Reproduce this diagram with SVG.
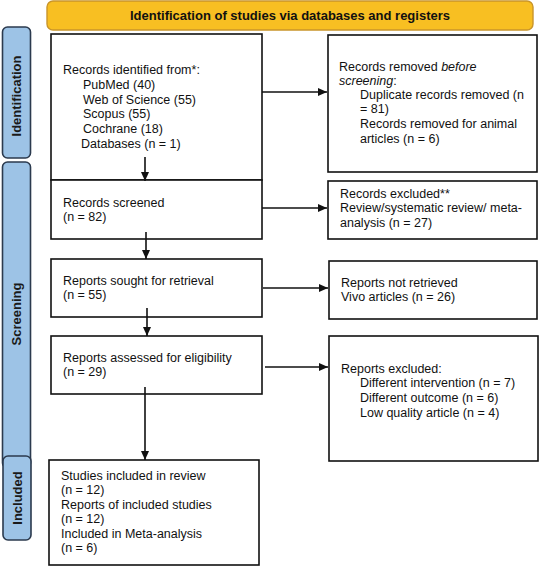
<svg xmlns="http://www.w3.org/2000/svg" width="540" height="566" viewBox="0 0 540 566">
  <style>
    .box { fill: #ffffff; stroke: #111111; stroke-width: 1.6; }
    .tab { fill: #9DC3E6; stroke: #2B3A4E; stroke-width: 1.6; }
    .banner { fill: #F8BF22; stroke: #C9952A; stroke-width: 1.4; }
    .t { font-family: "Liberation Sans", Arial, sans-serif; font-size: 12.5px; fill: #111111; }
    .hb { font-family: "Liberation Sans", Arial, sans-serif; font-size: 13px; font-weight: bold; fill: #111111; }
    .tl { font-family: "Liberation Sans", Arial, sans-serif; font-size: 13px; font-weight: bold; fill: #1a1a1a; text-anchor: middle; }
    .conn { stroke: #111111; stroke-width: 1.6; fill: none; marker-end: url(#arr); }
  </style>
  <defs>
    <marker id="arr" markerUnits="userSpaceOnUse" markerWidth="9" markerHeight="8" refX="9" refY="4" viewBox="0 0 9 8" orient="auto">
      <path d="M0,0 L9,4 L0,8 z" fill="#111111"/>
    </marker>
  </defs>
  <rect width="540" height="566" fill="#ffffff"/>

  <g id="banner">
    <rect class="banner" x="47" y="1" width="486" height="29" rx="6"/>
    <text class="hb" x="290" y="20" text-anchor="middle">Identification of studies via databases and registers</text>
  </g>

  <g id="tab-identification">
    <rect class="tab" x="2.5" y="27" width="28" height="131" rx="5"/>
    <text class="tl" transform="translate(21,96) rotate(-90)">Identification</text>
  </g>
  <g id="tab-screening">
    <rect class="tab" x="2.5" y="162" width="28" height="306" rx="5"/>
    <text class="tl" transform="translate(21,314) rotate(-90)">Screening</text>
  </g>
  <g id="tab-included">
    <rect class="tab" x="3" y="456" width="28" height="84" rx="5"/>
    <text class="tl" transform="translate(21.5,498) rotate(-90)">Included</text>
  </g>

  <g id="records-identified">
    <rect class="box" x="51" y="34" width="211" height="146"/>
    <text class="t" x="63" y="74">Records identified from*:</text>
    <text class="t" x="83" y="89">PubMed (40)</text>
    <text class="t" x="83" y="104">Web of Science (55)</text>
    <text class="t" x="83" y="118">Scopus (55)</text>
    <text class="t" x="83" y="133">Cochrane (18)</text>
    <text class="t" x="81" y="148">Databases (n = 1)</text>
  </g>

  <g id="records-removed">
    <rect class="box" x="328" y="35" width="209" height="137"/>
    <text class="t" x="339" y="71">Records removed <tspan font-style="italic">before</tspan></text>
    <text class="t" x="339" y="85"><tspan font-style="italic">screening</tspan>:</text>
    <text class="t" x="360" y="99">Duplicate records removed (n</text>
    <text class="t" x="360" y="113">= 81)</text>
    <text class="t" x="360" y="128">Records removed for animal</text>
    <text class="t" x="360" y="143">articles (n = 6)</text>
  </g>

  <g id="records-screened">
    <rect class="box" x="51" y="180" width="211" height="59"/>
    <text class="t" x="63" y="207">Records screened</text>
    <text class="t" x="63" y="221">(n = 82)</text>
  </g>

  <g id="records-excluded">
    <rect class="box" x="328" y="181" width="209" height="58"/>
    <text class="t" x="340" y="198">Records excluded**</text>
    <text class="t" x="340" y="212">Review/systematic review/ meta-</text>
    <text class="t" x="340" y="227">analysis (n = 27)</text>
  </g>

  <g id="reports-sought">
    <rect class="box" x="51" y="259" width="211" height="58"/>
    <text class="t" x="63" y="285">Reports sought for retrieval</text>
    <text class="t" x="63" y="299">(n = 55)</text>
  </g>

  <g id="reports-not-retrieved">
    <rect class="box" x="329" y="261" width="208" height="58"/>
    <text class="t" x="341" y="287">Reports not retrieved</text>
    <text class="t" x="341" y="301">Vivo articles (n = 26)</text>
  </g>

  <g id="reports-assessed">
    <rect class="box" x="51" y="336" width="211" height="58"/>
    <text class="t" x="63" y="362">Reports assessed for eligibility</text>
    <text class="t" x="63" y="376">(n = 29)</text>
  </g>

  <g id="reports-excluded">
    <rect class="box" x="329" y="336" width="209" height="125"/>
    <text class="t" x="341" y="373">Reports excluded:</text>
    <text class="t" x="360" y="387">Different intervention (n = 7)</text>
    <text class="t" x="360" y="402">Different outcome (n = 6)</text>
    <text class="t" x="360" y="417">Low quality article (n = 4)</text>
  </g>

  <g id="studies-included">
    <rect class="box" x="49" y="460" width="210" height="105"/>
    <text class="t" x="61" y="480">Studies included in review</text>
    <text class="t" x="61" y="494">(n = 12)</text>
    <text class="t" x="61" y="509">Reports of included studies</text>
    <text class="t" x="61" y="523">(n = 12)</text>
    <text class="t" x="61" y="538">Included in Meta-analysis</text>
    <text class="t" x="61" y="552">(n = 6)</text>
  </g>

  <g id="connectors">
    <line class="conn" x1="262" y1="92" x2="327" y2="92"/>
    <line class="conn" x1="145" y1="157" x2="145" y2="181"/>
    <line class="conn" x1="262" y1="208" x2="327" y2="208"/>
    <line class="conn" x1="146" y1="232" x2="146" y2="259"/>
    <line class="conn" x1="263" y1="288" x2="328" y2="288"/>
    <line class="conn" x1="147" y1="308" x2="147" y2="336"/>
    <line class="conn" x1="265" y1="367" x2="328" y2="367"/>
    <line class="conn" x1="145" y1="387" x2="145" y2="460"/>
  </g>
</svg>
